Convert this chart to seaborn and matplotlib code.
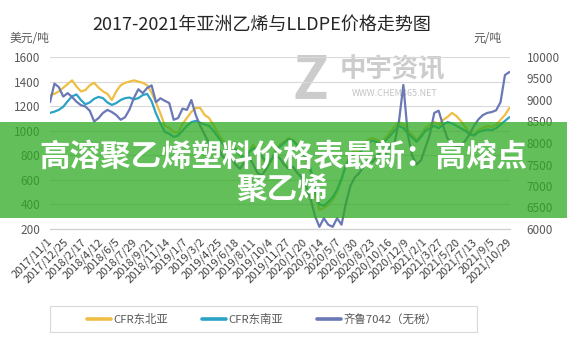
import numpy as np
import pandas as pd
import matplotlib
matplotlib.use("Agg")
import matplotlib.pyplot as plt
import seaborn as sns
from matplotlib.patches import Rectangle
from matplotlib.lines import Line2D

# ---------------- data ----------------
title = "2017-2021年亚洲乙烯与LLDPE价格走势图"
left_unit = "美元/吨"
right_unit = "元/吨"
series_names = ["CFR东北亚", "CFR东南亚", "齐鲁7042（无税）"]
banner_line1 = "高溶聚乙烯塑料价格表最新：高熔点"
banner_line2 = "聚乙烯"

dates = pd.date_range("2017-11-01", periods=105, freq="14D")

cfr_ne = [1290, 1300, 1320, 1350, 1380, 1410, 1360, 1320, 1330, 1370,
          1390, 1350, 1320, 1300, 1250, 1320, 1370, 1390, 1400, 1410,
          1400, 1390, 1370, 1310, 1230, 1140, 1040,
          1023, 990, 982, 1055, 1104, 1153, 1185, 1185, 1128, 1104,
          1047, 982, 925, 885, 844, 860, 803, 763, 828, 885,
          844, 779, 722, 746, 844, 885, 909, 941, 925, 885,
          844, 763, 665, 478, 356, 372, 397, 437, 502, 600,
          722, 803, 844, 828, 885, 925, 941, 925, 909, 941,
          990, 1031, 1071, 1047,
          1006, 966, 925, 966, 1023, 1047, 1071, 1047, 1088, 1112,
          1145, 1120, 1080, 1031, 982, 966, 1006, 1023, 1039, 1031,
          1047, 1088, 1128, 1185]

cfr_se = [1145, 1155, 1170, 1195, 1240, 1280, 1295, 1250, 1215, 1230,
          1260, 1275, 1265, 1230, 1210, 1225, 1250, 1265, 1270, 1255,
          1265, 1290, 1300, 1240, 1140, 1060, 990,
          975, 950, 960, 1000, 1040, 1070, 1080, 1065, 1050, 1040,
          1000, 950, 900, 860, 830, 850, 800, 780, 820, 860,
          840, 790, 750, 760, 820, 870, 900, 930, 920, 880,
          840, 780, 690, 520, 400, 390, 420, 460, 520, 610,
          720, 790, 820, 810, 860, 900, 920, 905, 890, 920,
          960, 1000, 1040, 1020,
          980, 945, 910, 950, 1000, 1020, 1040, 1020, 1050, 1070,
          1060, 1040, 1020, 1000, 970, 960, 990, 1000, 1010, 1005,
          1020, 1050, 1080, 1110]

qilu_7042 = [8950, 9380, 9300, 9080, 9160, 9070, 8960, 8880, 8850, 8750,
             8500, 8580, 8700, 8770, 8720, 8650, 8540, 8600, 8780, 9050,
             9250, 9160, 9280, 9340, 8950, 9040, 8980, 8930, 8540, 8580,
             8800, 8770, 9000, 8650,
             8400, 8200, 8000, 7800, 7900, 7700, 7600, 7650, 7500, 7400,
             7550, 7700, 7500, 7300, 7250, 7400, 7600, 7700, 7650, 7500,
             7400, 7450, 7300, 7200, 7000, 6700, 6300, 6050, 6250, 6100,
             6050, 6250, 6100, 6600, 7000, 7200, 7300, 7450, 7600, 7550,
             7700, 7800, 7750, 7900, 8000, 8500, 9350,
             8200, 7700, 7500, 7600, 7900, 8200, 8700, 8750, 8400, 8100,
             8000, 7900, 7950, 8050, 8200, 8400, 8550, 8650, 8700, 8720,
             8760, 8950, 9580, 9650]

x_tick_labels = ["2017/11/1", "2017/12/25", "2018/2/17", "2018/4/12", "2018/6/5",
                 "2018/7/29", "2018/9/21", "2018/11/14", "2019/1/7", "2019/3/2",
                 "2019/4/25", "2019/6/18", "2019/8/11", "2019/10/4", "2019/11/27",
                 "2020/1/20", "2020/3/14", "2020/5/7", "2020/6/30", "2020/8/23",
                 "2020/10/16", "2020/12/9", "2021/2/1", "2021/3/27", "2021/5/20",
                 "2021/7/13", "2021/9/5", "2021/10/29"]
left_ticks = [200, 400, 600, 800, 1000, 1200, 1400, 1600]
right_ticks = [6000, 6500, 7000, 7500, 8000, 8500, 9000, 9500, 10000]

df = pd.DataFrame({"date": dates, "ne": cfr_ne, "se": cfr_se, "ql": qilu_7042})

# ---------------- style ----------------
sns.set_style("white")
plt.rcParams["font.family"] = ["Noto Sans CJK SC", "DejaVu Sans"]

c_ne = "#EFBE45"
c_se = "#2BA2C6"
c_ql = "#6A78B6"
txt = "#595959"

fig = plt.figure(figsize=(5.67, 3.40), dpi=100)
W, H = 567, 340
ax = fig.add_axes([50 / W, 1 - 229 / H, 460 / W, 172 / H])

# watermark
ax.text(0.565, 1.03, "Z", transform=ax.transAxes, fontsize=42, fontweight="bold",
        fontstyle="italic", color="#cccccc", ha="center", va="top", zorder=0.5)
ax.text(0.745, 1.005, "中宇资讯", transform=ax.transAxes, fontsize=19, fontweight="bold",
        color="#cccccc", ha="center", va="top", zorder=0.5)
ax.text(0.75, 0.79, "WWW.CHEM365.NET", transform=ax.transAxes, fontsize=6.5,
        color="#c4c4c4", ha="center", va="center", zorder=0.5)

sns.lineplot(data=df, x="date", y="ne", ax=ax, color=c_ne, lw=1.6)
sns.lineplot(data=df, x="date", y="se", ax=ax, color=c_se, lw=1.6)
ax2 = ax.twinx()
sns.lineplot(data=df, x="date", y="ql", ax=ax2, color=c_ql, lw=1.6)

ax.set_ylim(left_ticks[0], left_ticks[-1])
ax.set_yticks(left_ticks)
ax2.set_ylim(right_ticks[0], right_ticks[-1])
ax2.set_yticks(right_ticks)

xt = pd.to_datetime(x_tick_labels, format="%Y/%m/%d")
ax.set_xlim(xt[0], xt[-1])
ax.set_xticks(xt)
ax.set_xticklabels(x_tick_labels, rotation=45, ha="right", va="center",
                   rotation_mode="anchor", fontsize=8, color="#404040")
ax.tick_params(axis="x", length=4, color="#d0d0d0", width=0.8, pad=4)
ax.tick_params(axis="y", length=0, pad=7, labelsize=8.5, labelcolor=txt)
ax2.tick_params(axis="y", length=0, pad=12, labelsize=8.5, labelcolor=txt)

ax.grid(axis="y", color="#d9d9d9", lw=0.8)
ax.grid(axis="x", visible=False)
ax.set_axisbelow(True)
for a in (ax, ax2):
    a.set_xlabel("")
    a.set_ylabel("")
    for s in ["top", "left", "right"]:
        a.spines[s].set_visible(False)
    a.spines["bottom"].set_color("#d0d0d0")
    a.spines["bottom"].set_linewidth(0.8)

fig.text(262 / W, 1 - 25 / H, title, ha="center", va="center",
         fontsize=13, color="#262626")
fig.text(10 / W, 1 - 38 / H, left_unit, ha="left", va="center", fontsize=8.5, color=txt)
fig.text(473 / W, 1 - 38 / H, right_unit, ha="left", va="center", fontsize=8.5, color=txt)

# legend with an Excel-like wide frame
frame = Rectangle((50 / W, 1 - 332 / H), 427 / W, 26 / H, transform=fig.transFigure,
                  facecolor="white", edgecolor="#d9d9d9", lw=0.8, zorder=4)
fig.add_artist(frame)
handles = [Line2D([], [], color=c, lw=2.6) for c in (c_ne, c_se, c_ql)]
leg = fig.legend(handles, series_names, loc="center", bbox_to_anchor=(262 / W, 1 - 319 / H),
                 ncol=3, frameon=False, fontsize=8.2, handlelength=2.1,
                 handletextpad=0.2, columnspacing=3.0)
leg.set_zorder(5)
for t in leg.get_texts():
    t.set_color(txt)

# overlay banner
rect = Rectangle((0, 1 - 218 / H), 1, 96 / H, transform=fig.transFigure,
                 facecolor="#2faa22", alpha=0.75, edgecolor="none", zorder=10)
fig.add_artist(rect)
fig.text(283 / W, 1 - 157 / H, banner_line1, ha="center", va="center", fontsize=22,
         fontweight="bold", color="white", zorder=11)
fig.text(282 / W, 1 - 190 / H, banner_line2, ha="center", va="center", fontsize=22,
         fontweight="bold", color="white", zorder=11)

fig.savefig("out.png", dpi=100)
